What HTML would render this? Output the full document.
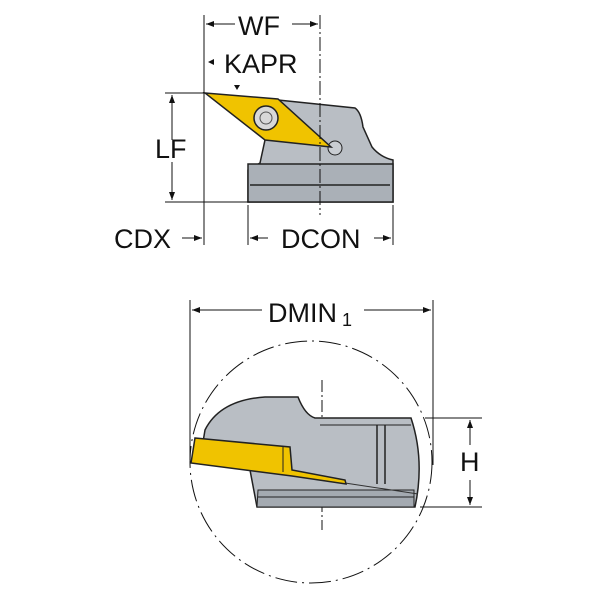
<!DOCTYPE html>
<html><head><style>body{margin:0;background:#fff}svg{display:block}text{font-family:"Liberation Sans",sans-serif;fill:#111}</style></head><body>
<svg width="600" height="600" viewBox="0 0 600 600">
<defs><marker id="a" markerWidth="8" markerHeight="6" refX="8" refY="3" orient="auto"><path d="M0,0L8,3L0,6z" fill="#111"/></marker></defs>
<!-- top view body -->
<path d="M278,100 L355,108 Q361,112 363,127 L372,147 Q380,157 393,160 L393,202 L248,202 L248,170 L260,163 L265,140 Z" fill="#b9bec4" stroke="#222" stroke-width="1.5"/>
<rect x="248" y="164" width="145" height="38" fill="#aab0b7" stroke="#222" stroke-width="1.5"/>
<line x1="250" y1="185" x2="390" y2="185" stroke="#222" stroke-width="1.5"/>
<circle cx="335" cy="148" r="7" fill="#c9cdd2" stroke="#222"/>
<path d="M205,93 L278,99 L331,147 L265,140 Z" fill="#f0c300" stroke="#222" stroke-width="1.5"/>
<circle cx="266" cy="118" r="12" fill="#d8d8d8" stroke="#222" stroke-width="1.5"/>
<circle cx="266" cy="118" r="6" fill="none" stroke="#555"/>
<g stroke="#111" stroke-width="1" fill="none">
<line x1="204" y1="15" x2="204" y2="245"/>
<line x1="320" y1="15" x2="320" y2="215" stroke-dasharray="14,3,2,3"/>
<line x1="165" y1="93" x2="205" y2="93"/><line x1="165" y1="202" x2="250" y2="202"/>
<line x1="172" y1="140" x2="172" y2="95" marker-end="url(#a)"/><line x1="172" y1="162" x2="172" y2="200" marker-end="url(#a)"/>
<line x1="235" y1="24" x2="206" y2="24" marker-end="url(#a)"/><line x1="292" y1="24" x2="318" y2="24" marker-end="url(#a)"/>
<line x1="248" y1="205" x2="248" y2="245"/><line x1="393" y1="205" x2="393" y2="245"/>
<line x1="182" y1="238" x2="202" y2="238" marker-end="url(#a)"/>
<line x1="268" y1="238" x2="250" y2="238" marker-end="url(#a)"/><line x1="374" y1="238" x2="391" y2="238" marker-end="url(#a)"/>
</g>
<path d="M208,62 l6,-3 v6z" fill="#111"/><path d="M234,85 l3,5 l3,-5z" fill="#111"/>
<text x="238" y="35" font-size="27">WF</text>
<text x="224" y="73" font-size="27">KAPR</text>
<text x="155" y="158" font-size="27">LF</text>
<text x="114" y="248" font-size="27">CDX</text>
<text x="281" y="248" font-size="27">DCON</text>
<!-- bottom view -->
<g stroke="#111" stroke-width="1" fill="none">
<circle cx="311" cy="462" r="121" stroke-dasharray="22,5,2,5"/>
<line x1="190" y1="300" x2="190" y2="460"/><line x1="433" y1="300" x2="433" y2="465"/>
<line x1="262" y1="310" x2="192" y2="310" marker-end="url(#a)"/><line x1="364" y1="310" x2="431" y2="310" marker-end="url(#a)"/>
<line x1="322" y1="380" x2="322" y2="530" stroke-dasharray="12,3,2,3"/>
<line x1="425" y1="418" x2="482" y2="418"/><line x1="420" y1="507" x2="482" y2="507"/>
<line x1="470" y1="445" x2="470" y2="420" marker-end="url(#a)"/><line x1="470" y1="480" x2="470" y2="505" marker-end="url(#a)"/>
</g>
<path d="M205,430 Q220,400 265,397 L298,397 Q305,415 315,418 L411,418 Q425,460 415,507 L257,507 L250,470 L200,460 Z" fill="#b9bec4" stroke="#222" stroke-width="1.5"/>
<line x1="320" y1="425" x2="411" y2="425" stroke="#222"/>
<line x1="377" y1="425" x2="377" y2="484" stroke="#222" stroke-width="1.5"/><line x1="385" y1="425" x2="385" y2="484" stroke="#222" stroke-width="1.5"/>
<path d="M258,490 L414,490 L414,507 L257,507 Z" fill="#a4aab1" stroke="#222"/>
<line x1="258" y1="497" x2="414" y2="497" stroke="#222"/>
<path d="M290,472 L345,483 L418,494" fill="none" stroke="#333"/>
<path d="M195,438 L290,447 L292,470 L345,480 L346,484 L292,476 L191,463 Z" fill="#f0c300" stroke="#222" stroke-width="1.5"/>
<line x1="283" y1="446" x2="283" y2="472" stroke="#222"/>
<text x="268" y="322" font-size="27">DMIN</text><text x="342" y="326" font-size="18">1</text>
<text x="460" y="471" font-size="27">H</text>
</svg>
</body></html>
